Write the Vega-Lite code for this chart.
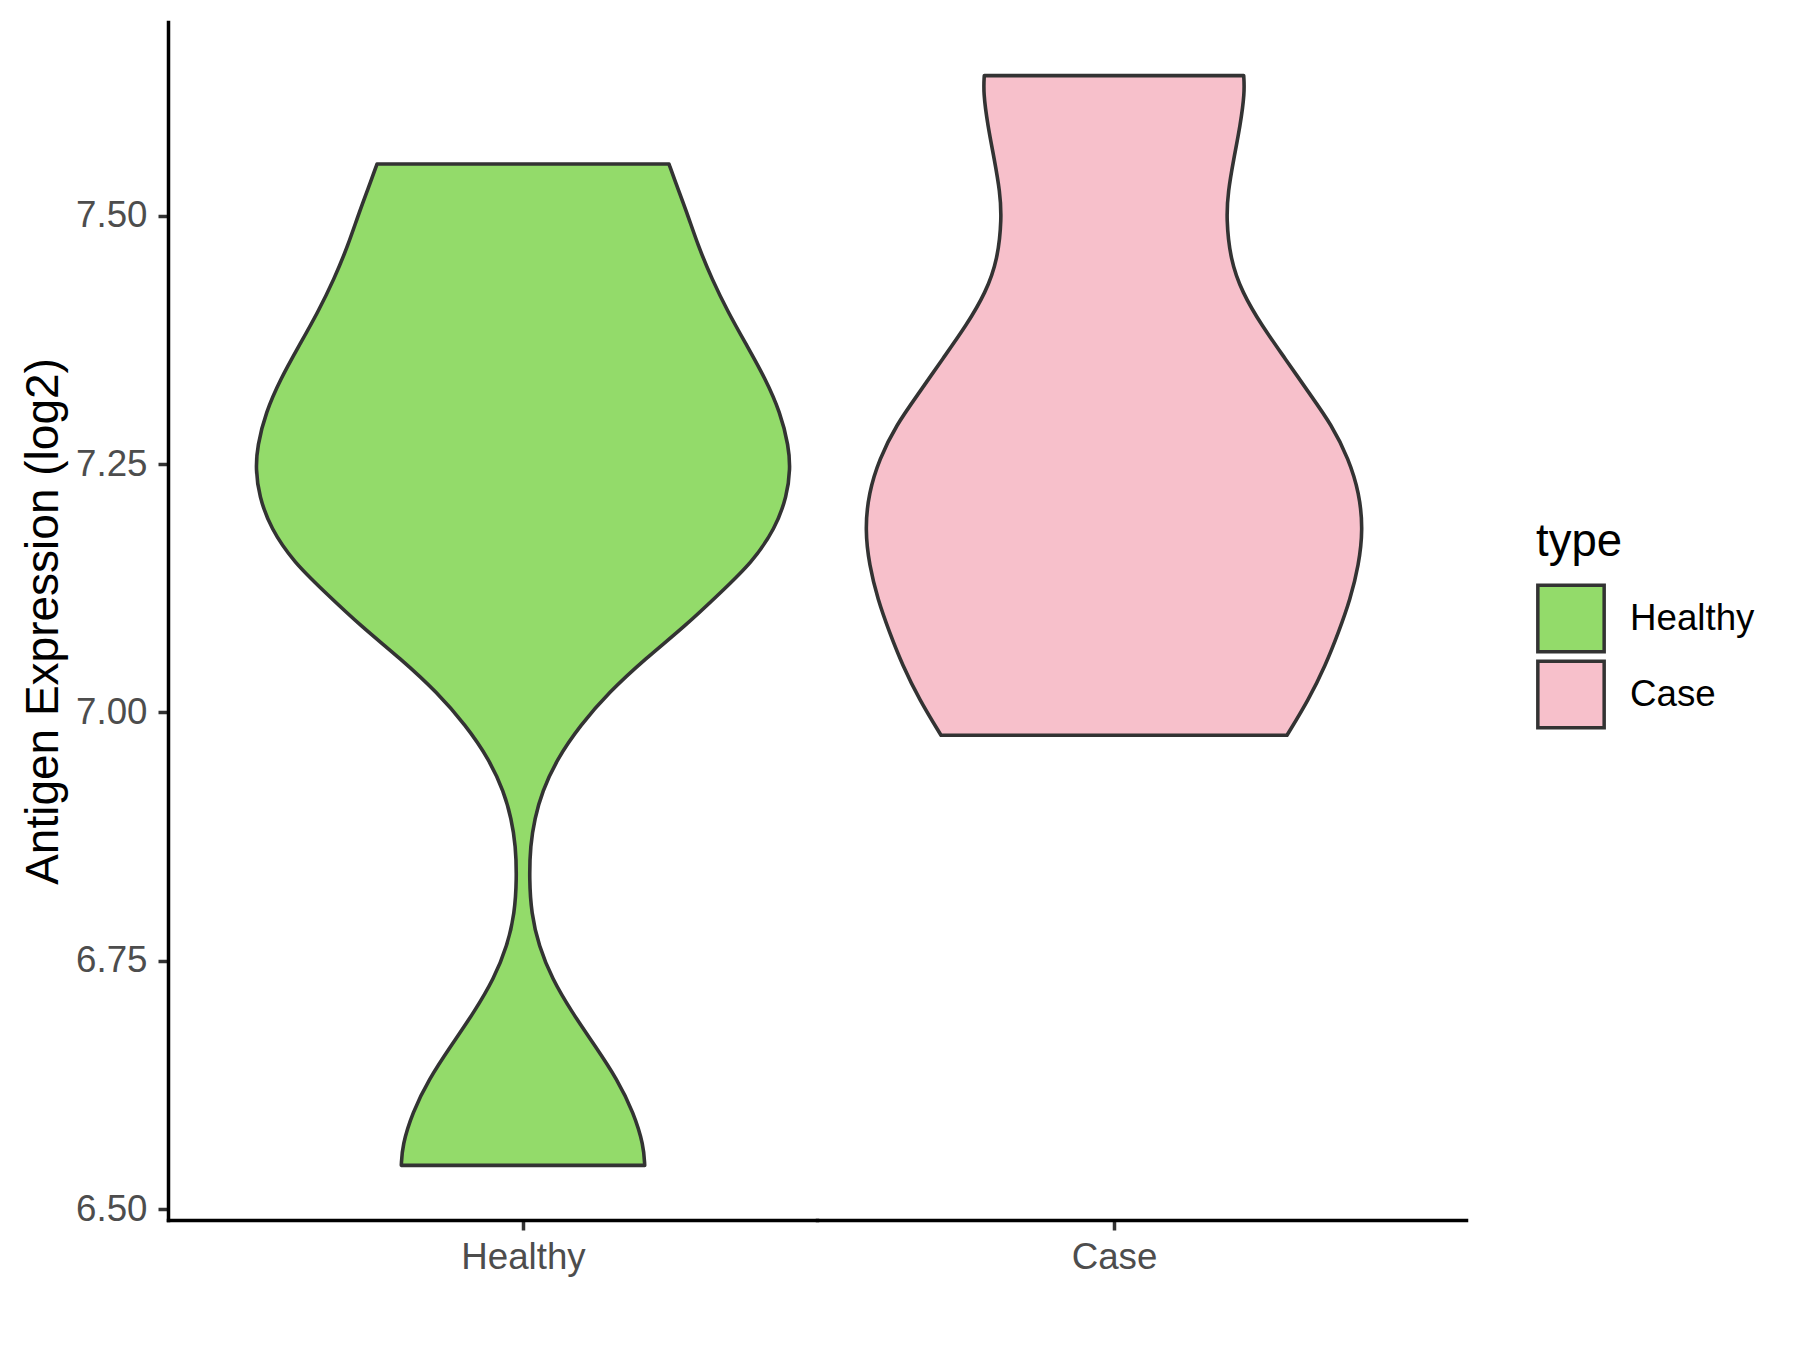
{
  "$schema": "https://vega.github.io/schema/vega-lite/v6.json",
  "padding": {"left": 20, "top": 22, "right": 10, "bottom": 10},
  "background": "white",
  "config": {
    "font": "Liberation Sans",
    "view": {"stroke": null},
    "concat": {"spacing": 0},
    "axis": {"grid": false, "domainColor": "black", "domainWidth": 3.5, "domainCap": "square", "tickColor": "#333333", "tickWidth": 3.5, "tickSize": 10, "labelFontSize": 36.7, "labelColor": "#4D4D4D", "labelFlush": false, "labelOverlap": false, "titleFontSize": 46, "titleFontWeight": "normal", "titleColor": "black"}
  },
  "data": {"values": [
    {"type": "Healthy", "value": 7.552, "density": 1.46},
    {"type": "Healthy", "value": 7.537, "density": 1.513},
    {"type": "Healthy", "value": 7.503, "density": 1.64},
    {"type": "Healthy", "value": 7.470, "density": 1.75},
    {"type": "Healthy", "value": 7.436, "density": 1.89},
    {"type": "Healthy", "value": 7.403, "density": 2.05},
    {"type": "Healthy", "value": 7.369, "density": 2.24},
    {"type": "Healthy", "value": 7.336, "density": 2.423},
    {"type": "Healthy", "value": 7.302, "density": 2.573},
    {"type": "Healthy", "value": 7.268, "density": 2.657},
    {"type": "Healthy", "value": 7.245, "density": 2.673},
    {"type": "Healthy", "value": 7.218, "density": 2.64},
    {"type": "Healthy", "value": 7.185, "density": 2.523},
    {"type": "Healthy", "value": 7.151, "density": 2.29},
    {"type": "Healthy", "value": 7.122, "density": 1.99},
    {"type": "Healthy", "value": 7.087, "density": 1.623},
    {"type": "Healthy", "value": 7.054, "density": 1.223},
    {"type": "Healthy", "value": 7.020, "density": 0.857},
    {"type": "Healthy", "value": 6.987, "density": 0.573},
    {"type": "Healthy", "value": 6.953, "density": 0.34},
    {"type": "Healthy", "value": 6.920, "density": 0.19},
    {"type": "Healthy", "value": 6.893, "density": 0.117},
    {"type": "Healthy", "value": 6.866, "density": 0.073},
    {"type": "Healthy", "value": 6.832, "density": 0.063},
    {"type": "Healthy", "value": 6.798, "density": 0.083},
    {"type": "Healthy", "value": 6.765, "density": 0.157},
    {"type": "Healthy", "value": 6.732, "density": 0.29},
    {"type": "Healthy", "value": 6.698, "density": 0.49},
    {"type": "Healthy", "value": 6.664, "density": 0.723},
    {"type": "Healthy", "value": 6.631, "density": 0.94},
    {"type": "Healthy", "value": 6.597, "density": 1.107},
    {"type": "Healthy", "value": 6.564, "density": 1.207},
    {"type": "Healthy", "value": 6.544, "density": 1.217},
    {"type": "Case", "value": 7.641, "density": 1.297},
    {"type": "Case", "value": 7.624, "density": 1.307},
    {"type": "Case", "value": 7.591, "density": 1.263},
    {"type": "Case", "value": 7.557, "density": 1.197},
    {"type": "Case", "value": 7.524, "density": 1.14},
    {"type": "Case", "value": 7.497, "density": 1.123},
    {"type": "Case", "value": 7.456, "density": 1.163},
    {"type": "Case", "value": 7.423, "density": 1.28},
    {"type": "Case", "value": 7.389, "density": 1.48},
    {"type": "Case", "value": 7.356, "density": 1.713},
    {"type": "Case", "value": 7.322, "density": 1.947},
    {"type": "Case", "value": 7.289, "density": 2.18},
    {"type": "Case", "value": 7.255, "density": 2.347},
    {"type": "Case", "value": 7.221, "density": 2.453},
    {"type": "Case", "value": 7.184, "density": 2.49},
    {"type": "Case", "value": 7.148, "density": 2.447},
    {"type": "Case", "value": 7.114, "density": 2.363},
    {"type": "Case", "value": 7.081, "density": 2.247},
    {"type": "Case", "value": 7.047, "density": 2.113},
    {"type": "Case", "value": 7.013, "density": 1.947},
    {"type": "Case", "value": 6.977, "density": 1.73}
  ]},
  "hconcat": [
    {
      "width": 649,
      "height": 1198,
      "transform": [{"filter": "datum.type === 'Healthy'"}],
      "mark": {"type": "area", "orient": "horizontal", "interpolate": "basis", "stroke": "#333333", "strokeWidth": 3.6, "strokeJoin": "round", "opacity": 1, "fillOpacity": 1},
      "encoding": {
        "y": {"field": "value", "type": "quantitative", "title": "Antigen Expression (log2)", "scale": {"domain": [6.489, 7.695], "nice": false, "zero": false},
              "axis": {"values": [6.5, 6.75, 7, 7.25, 7.5], "format": ".2f", "labelPadding": 11, "titlePadding": 8}},
        "x": {"field": "density", "type": "quantitative", "stack": "center", "impute": null, "title": null, "scale": {"domain": [-0.4385, 2.8065], "nice": false, "zero": false},
              "axis": {"values": [1.3365], "labelExpr": "'Healthy'", "labelPadding": 9}},
        "color": {"field": "type", "type": "nominal", "scale": {"domain": ["Healthy", "Case"], "range": ["#93DB6A", "#F7C0CB"]},
                  "legend": {"title": "type", "orient": "none", "legendX": 1368, "legendY": 498, "padding": 0, "titleFontSize": 45.5, "titleFontWeight": "normal", "titleColor": "black", "titlePadding": 18, "labelFontSize": 36.7, "labelColor": "black", "labelOffset": 24, "symbolType": "square", "symbolSize": 4400, "symbolStrokeColor": "#333333", "symbolStrokeWidth": 3.5, "symbolOpacity": 1, "rowPadding": -8}}
      }
    },
    {
      "width": 649,
      "height": 1198,
      "transform": [{"filter": "datum.type === 'Case'"}],
      "mark": {"type": "area", "orient": "horizontal", "interpolate": "basis", "stroke": "#333333", "strokeWidth": 3.6, "strokeJoin": "round", "opacity": 1, "fillOpacity": 1},
      "encoding": {
        "y": {"field": "value", "type": "quantitative", "scale": {"domain": [6.489, 7.695], "nice": false, "zero": false}, "axis": null},
        "x": {"field": "density", "type": "quantitative", "stack": "center", "impute": null, "title": null, "scale": {"domain": [-0.24, 3.005], "nice": false, "zero": false},
              "axis": {"values": [1.245], "labelExpr": "'Case'", "labelPadding": 9}},
        "color": {"field": "type", "type": "nominal", "scale": {"domain": ["Healthy", "Case"], "range": ["#93DB6A", "#F7C0CB"]}}
      }
    }
  ],
  "resolve": {"scale": {"x": "independent", "y": "shared", "color": "shared"}, "legend": {"color": "shared"}}
}
